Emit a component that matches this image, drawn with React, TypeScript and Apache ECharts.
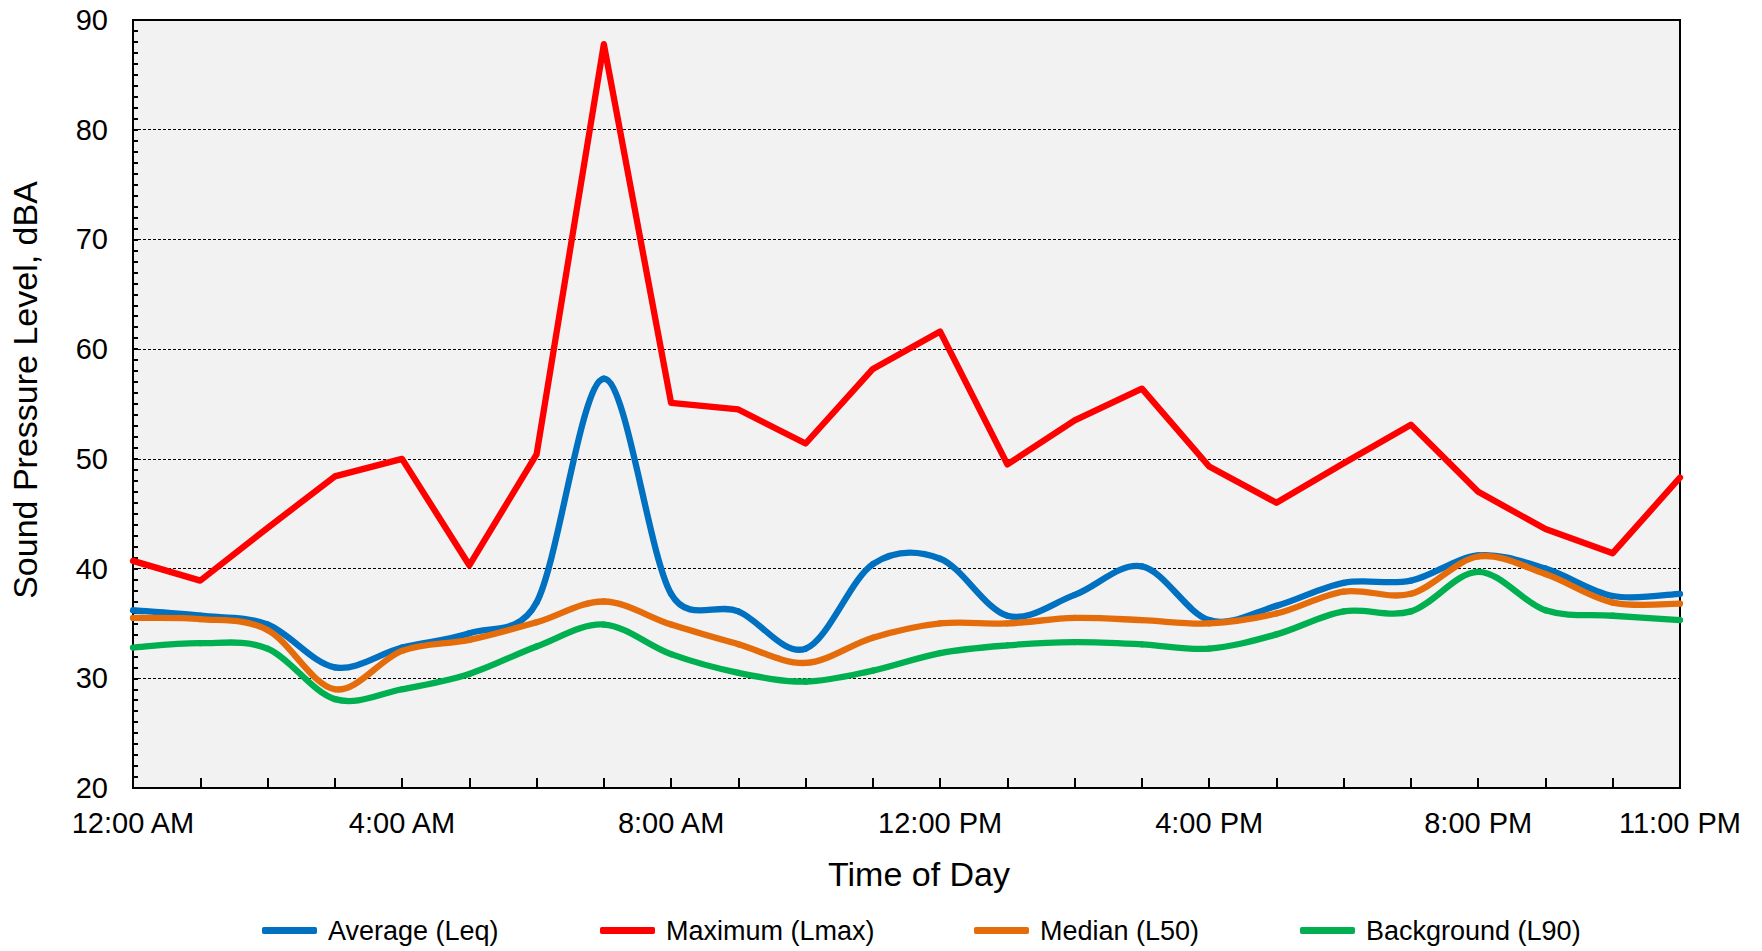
import React, { useEffect, useRef } from "react";
import * as echarts from "echarts";

const hours: string[] = [
  "12:00 AM", "1:00 AM", "2:00 AM", "3:00 AM", "4:00 AM", "5:00 AM",
  "6:00 AM", "7:00 AM", "8:00 AM", "9:00 AM", "10:00 AM", "11:00 AM",
  "12:00 PM", "1:00 PM", "2:00 PM", "3:00 PM", "4:00 PM", "5:00 PM",
  "6:00 PM", "7:00 PM", "8:00 PM", "9:00 PM", "10:00 PM", "11:00 PM",
];

const averageLeq: number[] = [
  36.2, 35.7, 34.9, 31.0, 32.8, 34.1, 36.9, 57.3, 37.7, 36.1, 32.7, 40.4,
  40.9, 35.7, 37.6, 40.2, 35.3, 36.6, 38.7, 38.9, 41.2, 40.0, 37.5, 37.7,
];
const maximumLmax: number[] = [
  40.7, 38.9, 43.7, 48.4, 50.0, 40.3, 50.4, 87.8, 55.1, 54.5, 51.4, 58.2,
  61.6, 49.5, 53.5, 56.4, 49.3, 46.0, 49.6, 53.1, 47.0, 43.6, 41.4, 48.3,
];
const medianL50: number[] = [
  35.5, 35.4, 34.4, 29.0, 32.5, 33.5, 35.1, 37.0, 34.9, 33.1, 31.4, 33.7,
  35.0, 35.0, 35.5, 35.3, 35.0, 35.9, 37.9, 37.7, 41.1, 39.5, 36.9, 36.8,
];
const backgroundL90: number[] = [
  32.8, 33.2, 32.7, 28.1, 29.0, 30.4, 32.9, 34.9, 32.2, 30.5, 29.7, 30.7,
  32.3, 33.0, 33.3, 33.1, 32.7, 34.0, 36.1, 36.1, 39.7, 36.2, 35.7, 35.3,
];

const seriesNames = ["Average (Leq)", "Maximum (Lmax)", "Median (L50)", "Background (L90)"];
const seriesColors = ["#0070C0", "#FF0000", "#E46C0A", "#00B050"];
const seriesSmooth = [true, false, true, true];
const seriesData = [averageLeq, maximumLmax, medianL50, backgroundL90];
const legendLefts = [262, 600, 974, 1300];

const FONT = "'Liberation Sans', Arial, sans-serif";
const LINE_W = 6.3;

const dist = (a: number[], b: number[]) => Math.hypot(a[0] - b[0], a[1] - b[1]);

function smoothSeries(name: string, data: number[], color: string) {
  const n = data.length;
  return {
    name,
    type: "custom",
    coordinateSystem: "cartesian2d",
    data: data.map((v, i) => [i, v]),
    encode: { x: 0, y: 1 },
    itemStyle: { color },
    emphasis: { disabled: true },
    renderItem: (params: any, api: any) => {
      const i = params.dataIndex;
      if (i >= n - 1) return { type: "group", children: [] };
      const c = (k: number) => {
        const kk = Math.max(0, Math.min(n - 1, k));
        return api.coord([kk, data[kk]]);
      };
      const p0 = c(i - 1);
      const p1 = c(i);
      const p2 = c(i + 1);
      const p3 = c(i + 2);
      const d12 = dist(p1, p2);
      const d02 = dist(p0, p2);
      const d13 = dist(p1, p3);
      const f1 = d02 > 0 ? Math.min(d02 / 6, d12 / 2) / d02 : 0;
      const f2 = d13 > 0 ? Math.min(d13 / 6, d12 / 2) / d13 : 0;
      return {
        type: "bezierCurve",
        shape: {
          x1: p1[0],
          y1: p1[1],
          cpx1: p1[0] + (p2[0] - p0[0]) * f1,
          cpy1: p1[1] + (p2[1] - p0[1]) * f1,
          cpx2: p2[0] - (p3[0] - p1[0]) * f2,
          cpy2: p2[1] - (p3[1] - p1[1]) * f2,
          x2: p2[0],
          y2: p2[1],
        },
        style: { stroke: color, lineWidth: LINE_W, fill: null, lineCap: "round", lineJoin: "round" },
        silent: true,
      };
    },
  };
}

export default function App() {
  const ref = useRef<HTMLDivElement>(null);

  useEffect(() => {
    if (!ref.current) return;
    const chart = echarts.init(ref.current, undefined, { renderer: "svg" });
    const shownLabels = new Set([0, 4, 8, 12, 16, 20, 23]);

    const option: any = {
      animation: false,
      backgroundColor: "#FFFFFF",
      textStyle: { fontFamily: FONT, color: "#000" },
      grid: {
        left: 133,
        right: 82,
        top: 20,
        bottom: 163,
        show: true,
        backgroundColor: "#F2F2F2",
        borderColor: "#000",
        borderWidth: 2,
        containLabel: false,
      },
      xAxis: {
        type: "category",
        data: hours,
        boundaryGap: false,
        axisLine: { show: true, lineStyle: { color: "#000", width: 2 } },
        axisTick: {
          show: true,
          inside: true,
          length: 10,
          interval: 0,
          lineStyle: { color: "#000", width: 2 },
        },
        axisLabel: {
          interval: (i: number) => shownLabels.has(i),
          color: "#000",
          fontSize: 29,
          fontFamily: FONT,
          margin: 20,
        },
        splitLine: { show: false },
      },
      yAxis: {
        type: "value",
        min: 20,
        max: 90,
        interval: 10,
        axisLine: { show: true, lineStyle: { color: "#000", width: 2 } },
        axisTick: { show: true, inside: true, length: 5, lineStyle: { color: "#000", width: 2 } },
        minorTick: { show: true, splitNumber: 10, length: 5, lineStyle: { color: "#000", width: 2 } },
        axisLabel: { color: "#000", fontSize: 29, fontFamily: FONT, margin: 25 },
        splitLine: { show: true, lineStyle: { color: "#000", width: 1, type: [3, 2] } },
      },
      legend: seriesNames.map((name, i) => ({
        data: [name],
        left: legendLefts[i],
        top: 917,
        padding: 0,
        icon: "roundRect",
        itemWidth: 55,
        itemHeight: 7,
        textStyle: { fontSize: 27, fontFamily: FONT, color: "#000", padding: [0, 0, 0, 6] },
      })),
      graphic: [
        {
          type: "text",
          x: 919,
          y: 874,
          style: {
            text: "Time of Day",
            fontSize: 34,
            fontFamily: FONT,
            fill: "#000",
            align: "center",
            verticalAlign: "middle",
          },
        },
        {
          type: "text",
          x: 25,
          y: 390,
          rotation: Math.PI / 2,
          style: {
            text: "Sound Pressure Level, dBA",
            fontSize: 34,
            fontFamily: FONT,
            fill: "#000",
            align: "center",
            verticalAlign: "middle",
          },
        },
      ],
      series: seriesNames.map((name, i) =>
        seriesSmooth[i]
          ? smoothSeries(name, seriesData[i], seriesColors[i])
          : {
              name,
              type: "line",
              data: seriesData[i],
              smooth: false,
              showSymbol: false,
              symbol: "none",
              color: seriesColors[i],
              lineStyle: { color: seriesColors[i], width: LINE_W, cap: "round", join: "round" },
              itemStyle: { color: seriesColors[i] },
              emphasis: { disabled: true },
            }
      ),
    };

    chart.setOption(option);
    return () => chart.dispose();
  }, []);

  return (
    <div
      ref={ref}
      style={{ position: "fixed", left: 0, top: 0, width: 1762, height: 951, background: "#fff" }}
    />
  );
}
